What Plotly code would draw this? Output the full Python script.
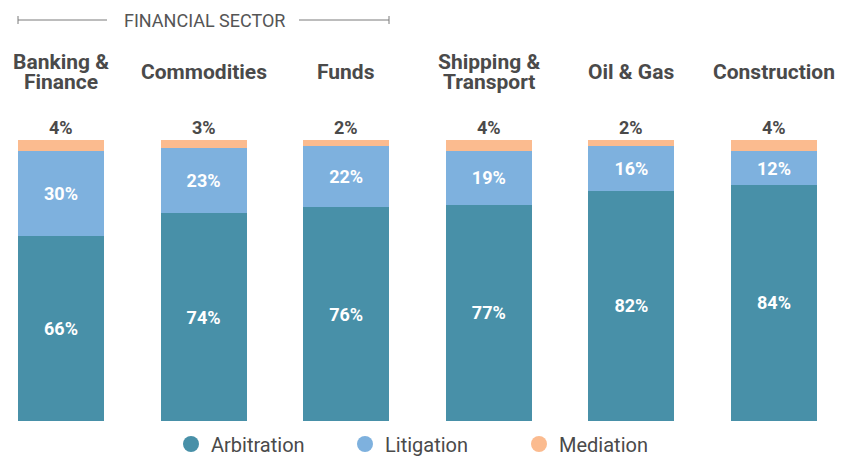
import plotly.graph_objects as go

categories = ["Banking &<br>Finance", "Commodities", "Funds", "Shipping &<br>Transport", "Oil & Gas", "Construction"]
arbitration = [66, 74, 76, 77, 82, 84]
litigation = [30, 23, 22, 19, 16, 12]
mediation = [4, 3, 2, 4, 2, 4]
header = "FINANCIAL SECTOR"

C_ARB = "#4890a8"
C_LIT = "#7eb1de"
C_MED = "#fbbb8f"
DARK = "#4a4a4a"
FONT = "Roboto"

W, H = 854, 456
top, bottom = 140, 35
plot_h = H - top - bottom
step = 142.6
x0_px = 61
xs = list(range(len(categories)))
bw = 86 / step

fig = go.Figure()
txtfont = dict(family=FONT, size=18, color="white", weight="bold")
fig.add_bar(x=xs, y=arbitration, marker_color=C_ARB, width=bw, showlegend=False,
            text=[f"{v}%" for v in arbitration], textposition="inside",
            insidetextanchor="middle", textfont=txtfont, constraintext="none",
            hoverinfo="skip", marker_line_width=0)
fig.add_bar(x=xs, y=litigation, marker_color=C_LIT, width=bw, showlegend=False,
            text=[f"{v}%" for v in litigation], textposition="inside",
            insidetextanchor="middle", textfont=txtfont, constraintext="none",
            hoverinfo="skip", marker_line_width=0)
fig.add_bar(x=xs, y=mediation, marker_color=C_MED, width=bw, showlegend=False,
            hoverinfo="skip", marker_line_width=0)

for name, col in [("Arbitration", C_ARB), ("Litigation", C_LIT), ("Mediation", C_MED)]:
    fig.add_scatter(x=[None], y=[None], mode="markers", name=name,
                    marker=dict(symbol="circle", size=18, color=col))

def ypx_to_paper(py):
    return (H - bottom - py) / plot_h

ann = []
for i, cat in enumerate(categories):
    lines = cat.split("<br>")
    if len(lines) == 1:
        ys = [72]
    else:
        ys = [62, 82]
    for ln, py in zip(lines, ys):
        ann.append(dict(x=i, y=ypx_to_paper(py), xref="x", yref="paper",
                        text=f"<b>{ln}</b>", showarrow=False, yanchor="middle",
                        font=dict(family=FONT, size=21, color=DARK)))
    tot = arbitration[i] + litigation[i] + mediation[i]
    ann.append(dict(x=i, y=tot, xref="x", yref="y", text=f"<b>{mediation[i]}%</b>",
                    showarrow=False, yanchor="bottom", yshift=0,
                    font=dict(family=FONT, size=18, color=DARK)))

def px_to_x(px):
    return (px - x0_px) / step

ypx = 20
ypaper = ypx_to_paper(ypx)
ann.append(dict(x=px_to_x(204), y=ypaper, xref="x", yref="paper", text=header,
                showarrow=False, yanchor="middle",
                font=dict(family=FONT, size=18, color="#555555")))

shapes = []
lc = dict(color="#7a7a7a", width=1)
for a, b in [(18, 107), (299, 389)]:
    shapes.append(dict(type="line", xref="x", yref="paper", x0=px_to_x(a), x1=px_to_x(b),
                       y0=ypaper, y1=ypaper, line=lc))
for a in [18, 389]:
    shapes.append(dict(type="line", xref="x", yref="paper", x0=px_to_x(a), x1=px_to_x(a),
                       y0=ypx_to_paper(16), y1=ypx_to_paper(24), line=lc))

fig.update_layout(
    width=W, height=H, barmode="stack",
    margin=dict(l=0, r=0, t=top, b=bottom, autoexpand=False),
    paper_bgcolor="white", plot_bgcolor="white",
    xaxis=dict(range=[px_to_x(0), px_to_x(W)], visible=False, fixedrange=True),
    yaxis=dict(range=[0, 100], visible=False, fixedrange=True),
    annotations=ann, shapes=shapes,
    showlegend=True,
    legend=dict(orientation="h", x=171 / W, xanchor="left", y=ypx_to_paper(444),
                yanchor="middle", font=dict(family=FONT, size=20, color=DARK),
                traceorder="normal",
                entrywidth=129, entrywidthmode="pixels",
                bgcolor="rgba(0,0,0,0)"),
    uniformtext=dict(mode=False),
)
fig.write_html("out.html", config={"displayModeBar": False, "staticPlot": True})
with open("out.html", "r", encoding="utf-8") as f:
    html = f.read()
html = html.replace("<body>", '<body style="margin:0;padding:0;overflow:hidden">', 1)
with open("out.html", "w", encoding="utf-8") as f:
    f.write(html)
